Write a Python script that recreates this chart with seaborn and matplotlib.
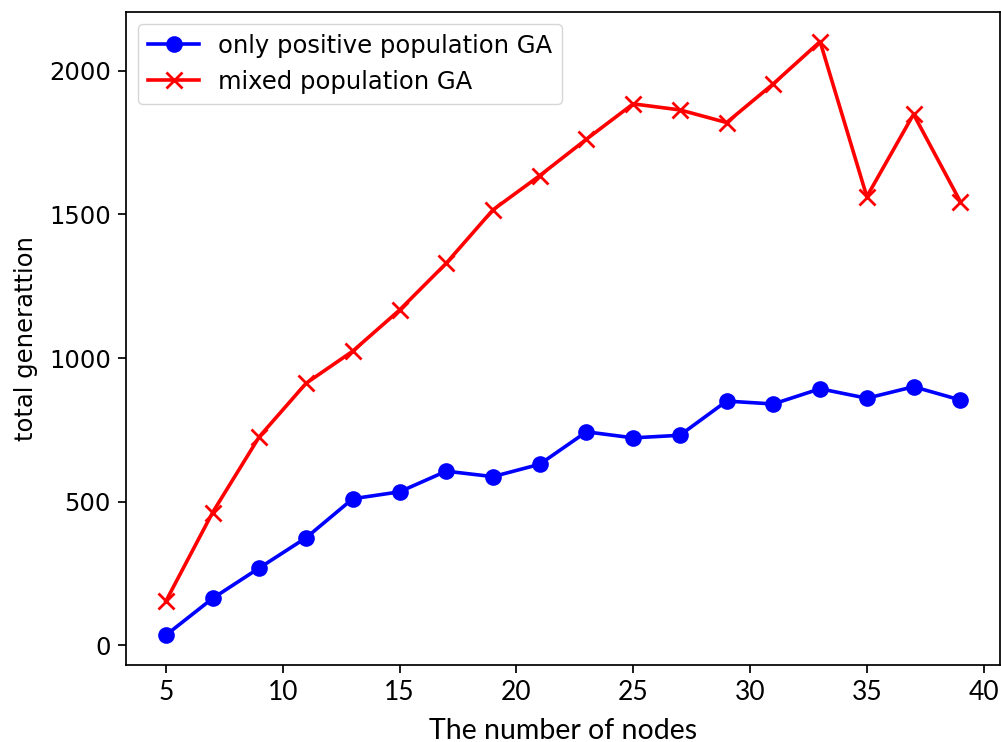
import seaborn as sns
import matplotlib.pyplot as plt
import numpy as np
import pandas as pd

# data
nodes = [5, 7, 9, 11, 13, 15, 17, 19, 21, 23, 25, 27, 29, 31, 33, 35, 37, 39]
positive_ga = [35, 163, 269, 374, 510, 534, 606, 587, 630,
               743, 722, 731, 850, 840, 893, 860, 900, 854]
mixed_ga = [153, 462, 726, 912, 1024, 1167, 1330, 1516, 1635,
            1762, 1885, 1864, 1820, 1955, 2102, 1562, 1849, 1545]

df = pd.DataFrame({"nodes": nodes, "positive": positive_ga, "mixed": mixed_ga})

plt.rcParams.update({
    "font.size": 17.5,
    "axes.linewidth": 1.25,
    "xtick.major.width": 1.25,
    "ytick.major.width": 1.25,
    "xtick.major.size": 5.5,
    "ytick.major.size": 5.5,
    "xtick.major.pad": 5.5,
    "ytick.major.pad": 5.5,
})

fig, ax = plt.subplots(figsize=(10.01, 7.42), dpi=100)
fig.subplots_adjust(left=0.126, right=0.999, bottom=0.104, top=0.984)

sns.lineplot(data=df, x="nodes", y="positive", ax=ax, color="blue", marker="o",
             markersize=12, linewidth=2.6, markeredgewidth=0,
             label="only positive population GA")
sns.lineplot(data=df, x="nodes", y="mixed", ax=ax, color="red", marker="x",
             markersize=11, linewidth=2.6, markeredgewidth=2,
             markeredgecolor="red", label="mixed population GA")

ax.set_xticks([5, 10, 15, 20, 25, 30, 35, 40])
ax.set_yticks([0, 500, 1000, 1500, 2000])
for t in ax.get_xticklabels():
    t.set_fontfamily("Lato")
    t.set_fontsize(19)

ax.set_xlabel("The number of nodes", fontfamily="Lato", fontsize=20.5, labelpad=9)
ax.set_ylabel("total generattion", fontsize=17.5, labelpad=8)

ax.legend(loc="upper left", fontsize=17.5, handlelength=2.1)

plt.savefig("out.png", dpi=100)
